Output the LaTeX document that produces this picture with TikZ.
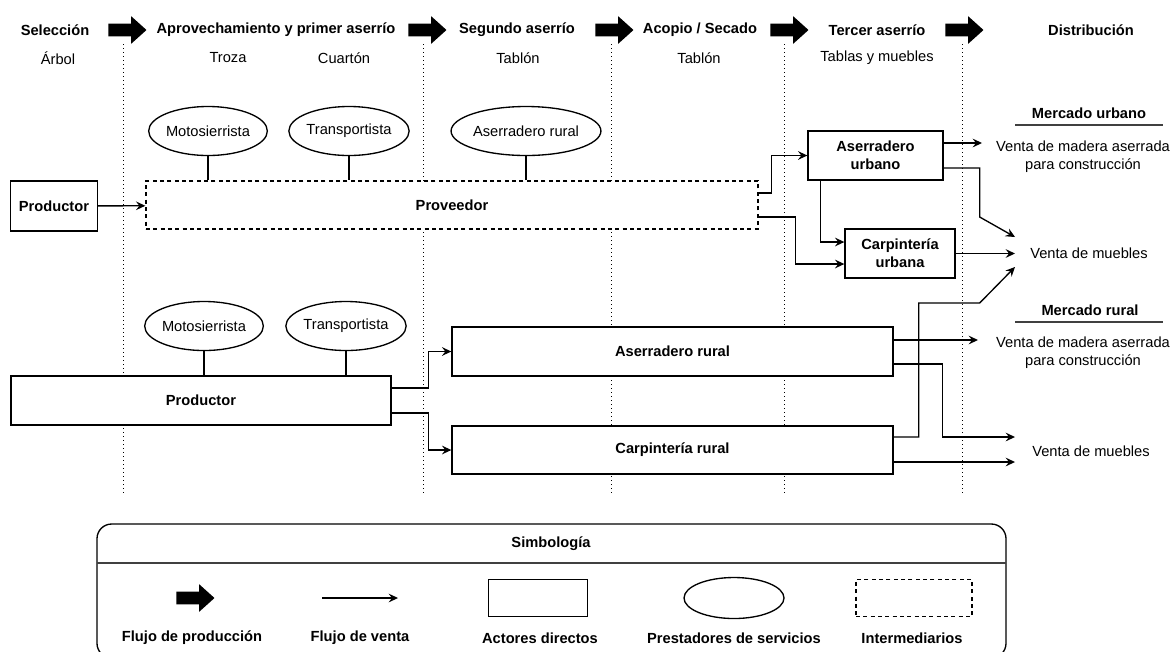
\documentclass[tikz,border=0pt]{standalone}
\usepackage{fontspec}
\setmainfont{Liberation Sans}
\usepackage{tikz}
\usetikzlibrary{arrows.meta,positioning,calc,shapes.geometric,shapes.arrows}
\tikzset{
  sz/.style 2 args={minimum width=#1*0.75pt,minimum height=#2*0.75pt},
  negrita/.style={font=\fontsize{11pt}{13.5pt}\selectfont\bfseries},
  actor/.style={draw,fill=white,line width=1pt,negrita,align=center,inner sep=0pt},
  interm/.style={actor,dash pattern=on 3pt off 2.5pt},
  servicio/.style={ellipse,draw,fill=white,line width=1pt,inner sep=0pt},
  venta/.style={-{Stealth[length=7pt,width=6.5pt,inset=2.5pt]},line width=1pt},
  enlace/.style={line width=1pt},
  flujo/.style={single arrow,fill=black,draw=none,minimum height=28.5pt,inner xsep=0pt,inner ysep=4.5pt,
    single arrow head extend=5.6pt,single arrow tip angle=84},
  guia/.style={line width=0.75pt,dash pattern=on 0.75pt off 2.25pt},
  etapa/.style={negrita},
  raya/.style={line width=1.1pt,draw=black!75},
}

\begin{document}
\begin{tikzpicture}[x=0.75pt,y=-0.75pt,font=\fontsize{11pt}{13.5pt}\selectfont]
    \useasboundingbox (0,0) rectangle (1176,651);
    % stage columns
    \foreach \gx in {123,423,611,784,962}
      \draw[guia] (\gx,44) -- (\gx,494);
    % header
    \node[etapa] (e1) at (55,30) {Selección};
    \node[flujo] (f1) at (124,30) {};
    \node[etapa] (e2) at (276,30) {Aprovechamiento y primer aserrío};
    \node[flujo] (f2) at (424,30) {};
    \node[etapa] (e3) at (517,30) {Segundo aserrío};
    \node[flujo] (f3) at (611,30) {};
    \node[etapa] (e4) at (700,30) {Acopio / Secado};
    \node[flujo] (f4) at (786,30) {};
    \node[etapa] (e5) at (877,30) {Tercer aserrío};
    \node[flujo] (f5) at (961,30) {};
    \node[etapa] (e6) at (1091,30) {Distribución};
    \node (p1) at (58,58) {Árbol};
    \node (p2) at (228,58) {Troza};
    \node (p3) at (344,58) {Cuartón};
    \node (p4) at (518,58) {Tablón};
    \node (p5) at (699,58) {Tablón};
    \node (p6) at (877,58) {Tablas y muebles};

    % urban chain
    \node[servicio,sz={110}{49}] (motoU) at (208,131) {Motosierrista};
    \node[servicio,sz={112}{49}] (transU) at (349,131) {Transportista};
    \node[servicio,sz={127}{49}] (aserrU) at (526,131) {Aserradero rural};
    \node[actor,sz={87}{50}] (prodU) at (54,206) {Productor};
    \node[interm,sz={612}{48}] (prov) at (452,205) {Proveedor};
    \node[actor,sz={135}{49}] (aurb) at (875.5,155.5) {Aserradero\\urbano};
    \node[actor,sz={110}{49}] (curb) at (900,253.5) {Carpintería\\urbana};
    \draw[enlace] (motoU.south) -- (motoU.south |- prov.north);
    \draw[enlace] (transU.south) -- (transU.south |- prov.north);
    \draw[enlace] (aserrU.south) -- (aserrU.south |- prov.north);

    \node[etapa] (mercU) at (1089,113) {Mercado urbano};
    \draw[raya] (1015,125) -- (1163,125);
    \node[align=center] (vmadU) at (1083,157) {Venta de madera aserrada\\para construcción};
    \node (vmueU) at (1089,253) {Venta de muebles};
    \coordinate (tMadU) at (982,143);
    \coordinate (tMueU1) at (1015,237);
    \coordinate (tMueU2) at (1015,253.5);
    \coordinate (tMueU3) at (1015,267);

    \draw[venta] (prodU) -- (prov);
    \draw[venta] ($(prov.east)+(0,-12)$) -- ++(13,0) |- (aurb.west);
    \draw[venta] ($(prov.east)+(0,12)$) -- ++(37,0) |- ($(curb.west)+(0,10.5)$);
    \draw[venta] ($(aurb.south west)+(13,0)$) |- ($(curb.west)+(0,-11.5)$);
    \draw[venta] ($(aurb.east)+(0,-12.5)$) -- (tMadU);
    \draw[venta] ($(aurb.east)+(0,12.5)$) -- ++(36,0) -- ++(0,49) -- (tMueU1);
    \draw[venta] (curb.east) -- (tMueU2);

    % rural chain
    \node[servicio,sz={110}{49}] (motoR) at (204,326) {Motosierrista};
    \node[servicio,sz={111}{49}] (transR) at (346,326) {Transportista};
    \node[actor,sz={380}{49}] (prodR) at (201,400.5) {Productor};
    \node[actor,sz={441}{49}] (arur) at (672.5,351.5) {Aserradero rural};
    \node[actor,sz={441}{48}] (crur) at (672.5,450) {Carpintería rural};
    \draw[enlace] (motoR.south) -- (motoR.south |- prodR.north);
    \draw[enlace] (transR.south) -- (transR.south |- prodR.north);

    \node[etapa] (mercR) at (1090,310) {Mercado rural};
    \draw[raya] (1015,322) -- (1163,322);
    \node[align=center] (vmadR) at (1083,353) {Venta de madera aserrada\\para construcción};
    \node (vmueR) at (1091,451) {Venta de muebles};
    \coordinate (tMadR) at (978,340);
    \coordinate (tMueR1) at (1015,437);
    \coordinate (tMueR2) at (1015,462);

    \draw[venta] ($(prodR.east)+(0,-12.5)$) -- ++(37,0) |- (arur.west);
    \draw[venta] ($(prodR.east)+(0,12.5)$) -- ++(37,0) |- (crur.west);
    \draw[venta] ($(arur.east)+(0,-11.5)$) -- (tMadR);
    \draw[venta] ($(arur.east)+(0,12.5)$) -- ++(49,0) |- (tMueR1);
    \draw[venta] ($(crur.east)+(0,12)$) -- (tMueR2);
    \draw[venta] ($(crur.east)+(0,-13)$) -- ++(25,0) -- ++(0,-134) -- ++(61,0) -- (tMueU3);

    % legend
    \draw[line width=1pt,rounded corners=11pt] (97,524) rectangle (1006,658);
    \draw[raya] (97,563) -- (1006,563);
    \node[etapa] (simb) at (551,544) {Simbología};
    \node[flujo] (lflujo) at (192,598) {};
    \coordinate (lv1) at (322,598);
    \coordinate (lv2) at (398,598);
    \draw[venta,line width=0.8pt] (lv1) -- (lv2);
    \node[actor,sz={99}{37}] (lact) at (538,598) {};
    \node[servicio,sz={100}{41}] (lser) at (734,598) {};
    \node[interm,sz={116}{37}] (lint) at (914,598) {};
    \node[etapa] (t1) at (192,638) {Flujo de producción};
    \node[etapa] (t2) at (360,638) {Flujo de venta};
    \node[etapa] (t3) at (540,638) {Actores directos};
    \node[etapa] (t4) at (734,638) {Prestadores de servicios};
    \node[etapa] (t5) at (912,638) {Intermediarios};
\end{tikzpicture}
\end{document}
